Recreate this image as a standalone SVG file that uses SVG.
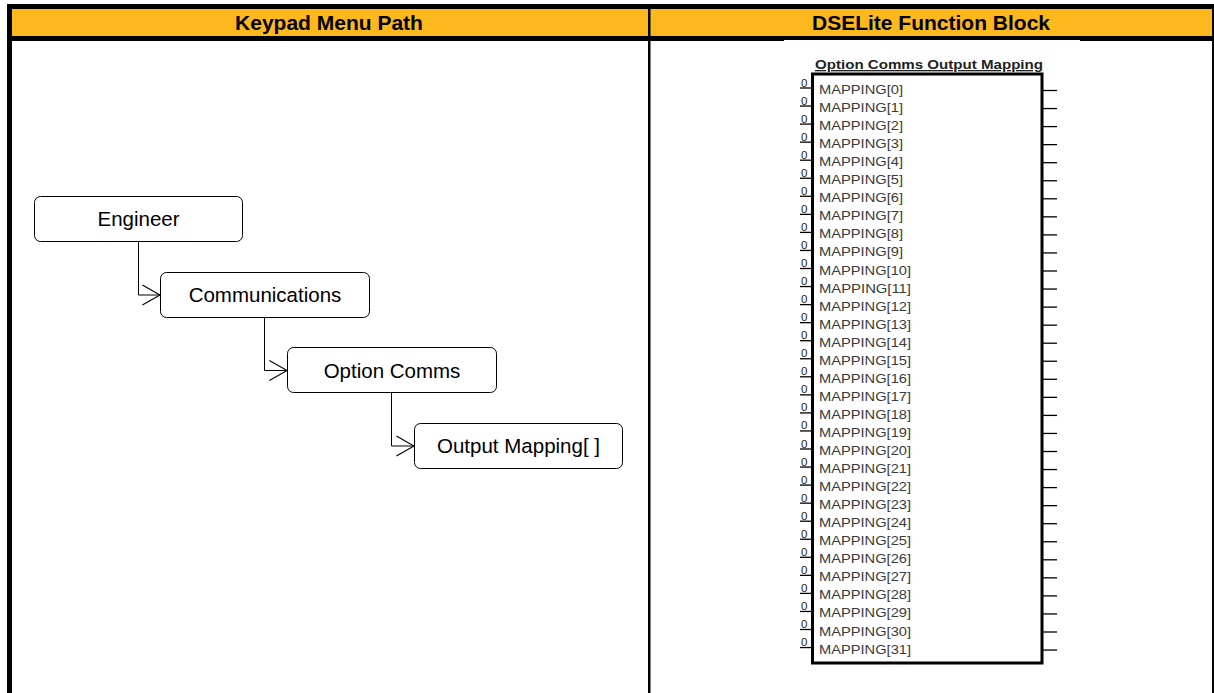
<svg xmlns="http://www.w3.org/2000/svg" width="1214" height="693" viewBox="0 0 1214 693">
<style>
.hdr{font-family:"Liberation Sans",Arial,sans-serif;font-weight:bold;font-size:21px;fill:#000;text-anchor:middle}
.box{fill:#fff;stroke:#000;stroke-width:1}
.bt{font-family:"Liberation Sans",Arial,sans-serif;font-size:20.5px;fill:#000;text-anchor:middle}
.con{fill:none;stroke:#000;stroke-width:1}
.z{font-family:"Liberation Sans",Arial,sans-serif;font-size:11.5px;fill:#222}
.m{font-family:"Liberation Sans",Arial,sans-serif;font-size:13px;fill:#3a3a3a}
.stub{stroke:#000;stroke-width:1.3}
.ttl{font-family:"Liberation Sans",Arial,sans-serif;font-weight:bold;font-size:13.5px;fill:#222;text-decoration:underline}
</style>
<defs>
<marker id="chev" markerUnits="userSpaceOnUse" markerWidth="20" markerHeight="22" viewBox="0 0 18 20" refX="16.5" refY="10" orient="auto">
<path d="M0.5,1 L16.5,10 L0.5,19" fill="none" stroke="#000" stroke-width="1"/>
</marker>
<g id="row">
<text class="z" x="801" y="86.5">0</text>
<line class="stub" x1="800" y1="88" x2="812" y2="88"/>
<line class="stub" x1="1043" y1="90.5" x2="1057" y2="90.5"/>
</g>
</defs>
<rect width="1214" height="693" fill="#fff"/>
<g id="table">
<rect x="12" y="9" width="1202" height="27" fill="#FDB81D"/>
<rect x="7" y="4" width="1207" height="5" fill="#000"/>
<rect x="7" y="36" width="1207" height="5" fill="#000"/>
<rect x="7" y="4" width="5" height="689" fill="#000"/>
<rect x="648" y="9" width="2.5" height="684" fill="#000"/>
<rect x="1212" y="9" width="2" height="684" fill="#000"/>
<rect x="784" y="40" width="296" height="1" fill="#fff"/>
<text class="hdr" x="329" y="30">Keypad Menu Path</text>
<text class="hdr" x="931" y="30">DSELite Function Block</text>
</g>
<g id="connectors">
<path class="con" d="M138.5,242 V295 H160" marker-end="url(#chev)"/>
<path class="con" d="M264.5,318 V370.5 H287" marker-end="url(#chev)"/>
<path class="con" d="M391.5,393 V446 H414" marker-end="url(#chev)"/>
</g>
<g id="engineer">
<rect class="box" x="34.5" y="196.5" width="208" height="45" rx="6"/>
<text class="bt" x="138.5" y="226">Engineer</text>
</g>
<g id="communications">
<rect class="box" x="160.5" y="272.5" width="209" height="45" rx="6"/>
<text class="bt" x="265" y="302">Communications</text>
</g>
<g id="option-comms">
<rect class="box" x="287.5" y="347.5" width="209" height="45" rx="6"/>
<text class="bt" x="392" y="377.5">Option Comms</text>
</g>
<g id="output-mapping">
<rect class="box" x="414.5" y="423.5" width="208" height="45" rx="6"/>
<text class="bt" x="518.5" y="453">Output Mapping[ ]</text>
</g>
<g id="function-block">
<text class="ttl" x="815" y="69" textLength="228" lengthAdjust="spacingAndGlyphs">Option Comms Output Mapping</text>
<rect x="812.5" y="74" width="229.5" height="589" fill="#fff" stroke="#000" stroke-width="3"/>
<use href="#row"/>
<use href="#row" y="18.05"/>
<use href="#row" y="36.1"/>
<use href="#row" y="54.15"/>
<use href="#row" y="72.2"/>
<use href="#row" y="90.25"/>
<use href="#row" y="108.3"/>
<use href="#row" y="126.35"/>
<use href="#row" y="144.4"/>
<use href="#row" y="162.45"/>
<use href="#row" y="180.5"/>
<use href="#row" y="198.55"/>
<use href="#row" y="216.6"/>
<use href="#row" y="234.65"/>
<use href="#row" y="252.7"/>
<use href="#row" y="270.75"/>
<use href="#row" y="288.8"/>
<use href="#row" y="306.85"/>
<use href="#row" y="324.9"/>
<use href="#row" y="342.95"/>
<use href="#row" y="361"/>
<use href="#row" y="379.05"/>
<use href="#row" y="397.1"/>
<use href="#row" y="415.15"/>
<use href="#row" y="433.2"/>
<use href="#row" y="451.25"/>
<use href="#row" y="469.3"/>
<use href="#row" y="487.35"/>
<use href="#row" y="505.4"/>
<use href="#row" y="523.45"/>
<use href="#row" y="541.5"/>
<use href="#row" y="559.55"/>
<text class="m" x="819" y="94" textLength="84" lengthAdjust="spacingAndGlyphs">MAPPING[0]</text>
<text class="m" x="819" y="112.05" textLength="84" lengthAdjust="spacingAndGlyphs">MAPPING[1]</text>
<text class="m" x="819" y="130.1" textLength="84" lengthAdjust="spacingAndGlyphs">MAPPING[2]</text>
<text class="m" x="819" y="148.15" textLength="84" lengthAdjust="spacingAndGlyphs">MAPPING[3]</text>
<text class="m" x="819" y="166.2" textLength="84" lengthAdjust="spacingAndGlyphs">MAPPING[4]</text>
<text class="m" x="819" y="184.25" textLength="84" lengthAdjust="spacingAndGlyphs">MAPPING[5]</text>
<text class="m" x="819" y="202.3" textLength="84" lengthAdjust="spacingAndGlyphs">MAPPING[6]</text>
<text class="m" x="819" y="220.35" textLength="84" lengthAdjust="spacingAndGlyphs">MAPPING[7]</text>
<text class="m" x="819" y="238.4" textLength="84" lengthAdjust="spacingAndGlyphs">MAPPING[8]</text>
<text class="m" x="819" y="256.45" textLength="84" lengthAdjust="spacingAndGlyphs">MAPPING[9]</text>
<text class="m" x="819" y="274.5" textLength="92" lengthAdjust="spacingAndGlyphs">MAPPING[10]</text>
<text class="m" x="819" y="292.55" textLength="92" lengthAdjust="spacingAndGlyphs">MAPPING[11]</text>
<text class="m" x="819" y="310.6" textLength="92" lengthAdjust="spacingAndGlyphs">MAPPING[12]</text>
<text class="m" x="819" y="328.65" textLength="92" lengthAdjust="spacingAndGlyphs">MAPPING[13]</text>
<text class="m" x="819" y="346.7" textLength="92" lengthAdjust="spacingAndGlyphs">MAPPING[14]</text>
<text class="m" x="819" y="364.75" textLength="92" lengthAdjust="spacingAndGlyphs">MAPPING[15]</text>
<text class="m" x="819" y="382.8" textLength="92" lengthAdjust="spacingAndGlyphs">MAPPING[16]</text>
<text class="m" x="819" y="400.85" textLength="92" lengthAdjust="spacingAndGlyphs">MAPPING[17]</text>
<text class="m" x="819" y="418.9" textLength="92" lengthAdjust="spacingAndGlyphs">MAPPING[18]</text>
<text class="m" x="819" y="436.95" textLength="92" lengthAdjust="spacingAndGlyphs">MAPPING[19]</text>
<text class="m" x="819" y="455" textLength="92" lengthAdjust="spacingAndGlyphs">MAPPING[20]</text>
<text class="m" x="819" y="473.05" textLength="92" lengthAdjust="spacingAndGlyphs">MAPPING[21]</text>
<text class="m" x="819" y="491.1" textLength="92" lengthAdjust="spacingAndGlyphs">MAPPING[22]</text>
<text class="m" x="819" y="509.15" textLength="92" lengthAdjust="spacingAndGlyphs">MAPPING[23]</text>
<text class="m" x="819" y="527.2" textLength="92" lengthAdjust="spacingAndGlyphs">MAPPING[24]</text>
<text class="m" x="819" y="545.25" textLength="92" lengthAdjust="spacingAndGlyphs">MAPPING[25]</text>
<text class="m" x="819" y="563.3" textLength="92" lengthAdjust="spacingAndGlyphs">MAPPING[26]</text>
<text class="m" x="819" y="581.35" textLength="92" lengthAdjust="spacingAndGlyphs">MAPPING[27]</text>
<text class="m" x="819" y="599.4" textLength="92" lengthAdjust="spacingAndGlyphs">MAPPING[28]</text>
<text class="m" x="819" y="617.45" textLength="92" lengthAdjust="spacingAndGlyphs">MAPPING[29]</text>
<text class="m" x="819" y="635.5" textLength="92" lengthAdjust="spacingAndGlyphs">MAPPING[30]</text>
<text class="m" x="819" y="653.55" textLength="92" lengthAdjust="spacingAndGlyphs">MAPPING[31]</text>
</g>
</svg>
